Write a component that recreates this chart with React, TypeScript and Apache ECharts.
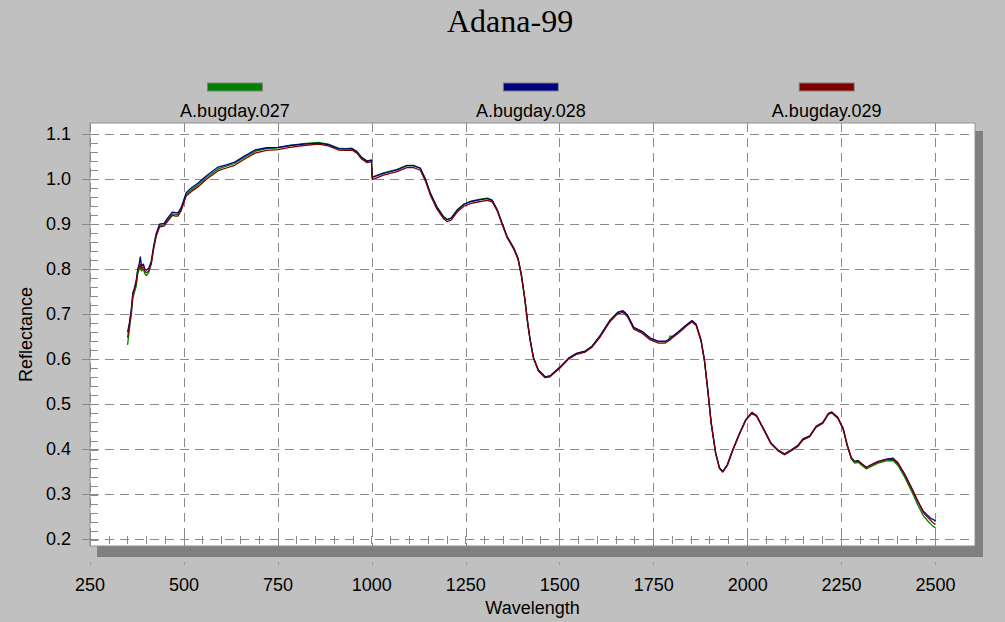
import React, { useEffect, useRef } from "react";
import * as echarts from "echarts";

const wavelengths = [
  350, 355, 360, 364, 368, 373, 377, 381, 384, 387,
  392, 396, 400, 406, 413, 419, 426, 435, 447, 457,
  469, 478, 484, 493, 506, 520, 537, 560, 591, 613,
  635, 662, 689, 720, 750, 782, 818, 858, 884, 911,
  929, 947, 960, 973, 987, 999, 1001, 1031, 1067, 1093,
  1111, 1129, 1142, 1156, 1173, 1191, 1200, 1211, 1227, 1245,
  1262, 1285, 1307, 1320, 1334, 1347, 1360, 1378, 1389, 1398,
  1407, 1415, 1421, 1430, 1443, 1461, 1474, 1500, 1523, 1545,
  1568, 1585, 1608, 1634, 1654, 1668, 1680, 1697, 1719, 1741,
  1763, 1781, 1790, 1794, 1799, 1817, 1839, 1852, 1863, 1876,
  1885, 1894, 1903, 1915, 1925, 1934, 1946, 1959, 1977, 1995,
  2011, 2024, 2044, 2062, 2080, 2098, 2116, 2133, 2147, 2165,
  2182, 2200, 2215, 2224, 2240, 2254, 2265, 2276, 2285, 2294,
  2304, 2316, 2329, 2347, 2369, 2387, 2400, 2418, 2436, 2454,
  2467, 2480, 2488, 2494, 2500,
];

const bugday027 = [
  0.632, 0.668, 0.700, 0.735, 0.748, 0.762, 0.790, 0.800, 0.808, 0.796,
  0.800, 0.790, 0.786, 0.792, 0.812, 0.845, 0.874, 0.896, 0.899, 0.910,
  0.923, 0.922, 0.921, 0.934, 0.966, 0.977, 0.987, 1.004, 1.023, 1.029,
  1.035, 1.049, 1.062, 1.068, 1.070, 1.075, 1.079, 1.082, 1.078, 1.069,
  1.068, 1.069, 1.062, 1.049, 1.041, 1.043, 1.005, 1.014, 1.022, 1.031,
  1.031, 1.025, 1.002, 0.969, 0.939, 0.917, 0.911, 0.914, 0.932, 0.945,
  0.951, 0.955, 0.958, 0.954, 0.932, 0.902, 0.873, 0.847, 0.825, 0.788,
  0.736, 0.680, 0.645, 0.604, 0.576, 0.561, 0.563, 0.582, 0.602, 0.613,
  0.618, 0.628, 0.653, 0.687, 0.704, 0.707, 0.698, 0.670, 0.661, 0.646,
  0.639, 0.639, 0.644, 0.652, 0.650, 0.661, 0.677, 0.685, 0.677, 0.642,
  0.598, 0.531, 0.458, 0.391, 0.358, 0.350, 0.365, 0.395, 0.432, 0.465,
  0.481, 0.474, 0.442, 0.413, 0.398, 0.388, 0.397, 0.406, 0.421, 0.428,
  0.449, 0.458, 0.478, 0.481, 0.469, 0.445, 0.408, 0.378, 0.369, 0.371,
  0.364, 0.356, 0.362, 0.369, 0.374, 0.375, 0.364, 0.338, 0.307, 0.274,
  0.253, 0.240, 0.233, 0.228, 0.226,
];

const bugday028 = [
  0.660, 0.682, 0.712, 0.748, 0.758, 0.776, 0.800, 0.812, 0.828, 0.806,
  0.812, 0.800, 0.798, 0.802, 0.818, 0.850, 0.879, 0.900, 0.902, 0.914,
  0.927, 0.926, 0.925, 0.938, 0.970, 0.981, 0.991, 1.008, 1.027, 1.032,
  1.038, 1.052, 1.065, 1.070, 1.071, 1.075, 1.078, 1.080, 1.077, 1.068,
  1.067, 1.068, 1.061, 1.048, 1.040, 1.042, 1.004, 1.013, 1.021, 1.030,
  1.030, 1.024, 1.001, 0.968, 0.938, 0.916, 0.910, 0.913, 0.931, 0.944,
  0.950, 0.954, 0.957, 0.953, 0.931, 0.901, 0.872, 0.846, 0.824, 0.787,
  0.735, 0.679, 0.645, 0.604, 0.576, 0.561, 0.563, 0.582, 0.602, 0.613,
  0.618, 0.628, 0.653, 0.687, 0.704, 0.708, 0.699, 0.671, 0.662, 0.647,
  0.640, 0.640, 0.644, 0.646, 0.650, 0.662, 0.678, 0.686, 0.678, 0.643,
  0.599, 0.532, 0.459, 0.392, 0.359, 0.351, 0.366, 0.396, 0.433, 0.466,
  0.482, 0.475, 0.443, 0.414, 0.399, 0.390, 0.399, 0.408, 0.423, 0.430,
  0.451, 0.460, 0.480, 0.483, 0.471, 0.447, 0.410, 0.381, 0.373, 0.375,
  0.368, 0.360, 0.366, 0.373, 0.378, 0.380, 0.370, 0.345, 0.315, 0.283,
  0.263, 0.252, 0.246, 0.244, 0.240,
];

const bugday029 = [
  0.648, 0.676, 0.706, 0.744, 0.754, 0.770, 0.796, 0.806, 0.812, 0.800,
  0.806, 0.796, 0.792, 0.796, 0.812, 0.844, 0.873, 0.894, 0.896, 0.907,
  0.920, 0.918, 0.918, 0.931, 0.963, 0.973, 0.983, 1.000, 1.019, 1.025,
  1.031, 1.045, 1.058, 1.064, 1.066, 1.071, 1.075, 1.078, 1.074, 1.065,
  1.064, 1.065, 1.058, 1.045, 1.037, 1.039, 0.999, 1.009, 1.017, 1.026,
  1.026, 1.020, 0.997, 0.964, 0.934, 0.912, 0.906, 0.909, 0.927, 0.940,
  0.946, 0.950, 0.953, 0.950, 0.929, 0.899, 0.870, 0.844, 0.822, 0.785,
  0.733, 0.677, 0.642, 0.602, 0.574, 0.559, 0.561, 0.580, 0.600, 0.611,
  0.616, 0.626, 0.650, 0.684, 0.701, 0.704, 0.695, 0.667, 0.658, 0.643,
  0.636, 0.636, 0.641, 0.643, 0.647, 0.659, 0.675, 0.683, 0.675, 0.640,
  0.596, 0.530, 0.457, 0.390, 0.357, 0.349, 0.364, 0.394, 0.431, 0.464,
  0.480, 0.473, 0.441, 0.412, 0.397, 0.388, 0.397, 0.406, 0.421, 0.428,
  0.449, 0.458, 0.478, 0.481, 0.469, 0.445, 0.408, 0.380, 0.372, 0.374,
  0.367, 0.359, 0.365, 0.372, 0.377, 0.378, 0.368, 0.343, 0.313, 0.281,
  0.260, 0.248, 0.241, 0.236, 0.233,
];

const seriesNames = ["A.bugday.027", "A.bugday.028", "A.bugday.029"];
const seriesColors = ["#008000", "#000080", "#800000"];
const seriesValues = [bugday027, bugday028, bugday029];

const xTicks = [250, 500, 750, 1000, 1250, 1500, 1750, 2000, 2250, 2500];
const yTicks = [0.2, 0.3, 0.4, 0.5, 0.6, 0.7, 0.8, 0.9, 1.0, 1.1];

const titleText = "Adana-99";
const xName = "Wavelength";
const yName = "Reflectance";

const GRID_GRAY = "#8a8a8a";
const SANS = "Liberation Sans";

export default function App() {
  const ref = useRef<HTMLDivElement>(null);

  useEffect(() => {
    if (!ref.current) return;
    const chart = echarts.init(ref.current, undefined, { renderer: "svg" });

    const rich: any = {
      lab: {
        fontFamily: SANS,
        fontSize: 18,
        color: "#000",
        lineHeight: 34,
        align: "center",
      },
    };
    seriesColors.forEach((c, i) => {
      rich["bar" + i] = {
        width: 54,
        height: 7,
        lineHeight: 14,
        backgroundColor: c,
        borderColor: "#808080",
        borderWidth: 1,
        align: "center",
      };
    });

    const hiddenAxis = (gridIndex: number) => ({
      type: "value",
      gridIndex,
      show: false,
      min: 0,
      max: 1,
      splitLine: { show: false },
    });

    const option: any = {
      animation: false,
      backgroundColor: "#c0c0c0",
      title: {
        text: titleText,
        left: 447,
        top: 5,
        padding: 0,
        textStyle: {
          fontFamily: "Liberation Serif",
          fontSize: 32,
          fontWeight: "normal",
          color: "#000",
        },
      },
      legend: {
        data: seriesNames,
        left: 160,
        top: 81,
        padding: 0,
        orient: "horizontal",
        itemWidth: 0,
        itemHeight: 0,
        itemGap: 166,
        selectedMode: false,
        icon: "rect",
        formatter: (name: string) => {
          const i = seriesNames.indexOf(name);
          return "{bar" + i + "|}\n{lab|" + name + "}";
        },
        textStyle: { width: 140, align: "center", rich },
      },
      grid: [
        {
          left: 97,
          top: 131,
          width: 886,
          height: 426,
          show: true,
          backgroundColor: "#808080",
          borderWidth: 0,
        },
        {
          left: 90,
          top: 123,
          width: 885,
          height: 424,
          show: true,
          backgroundColor: "#ffffff",
          borderColor: "#909090",
          borderWidth: 1,
        },
        { left: 90, top: 134, width: 845, height: 406 },
        { left: 90, top: 134, width: 845, height: 406 },
      ],
      xAxis: [
        hiddenAxis(0),
        {
          type: "value",
          gridIndex: 1,
          min: 250,
          max: 2605,
          interval: 250,
          offset: 16,
          name: xName,
          nameLocation: "middle",
          nameGap: 37,
          nameTextStyle: { fontFamily: SANS, fontSize: 18, color: "#000" },
          axisLine: { show: false },
          axisTick: {
            show: true,
            length: 3,
            customValues: xTicks,
            lineStyle: { color: "#9a9a9a" },
          },
          axisLabel: {
            customValues: xTicks,
            margin: 14,
            fontFamily: SANS,
            fontSize: 18,
            color: "#000",
            formatter: (v: number) => String(v),
          },
          splitLine: {
            show: true,
            lineStyle: { color: GRID_GRAY, type: [9, 6], width: 1 },
          },
        },
        {
          type: "value",
          gridIndex: 2,
          min: 250,
          max: 2500,
          interval: 250,
          axisLine: { show: false },
          axisTick: { show: true, inside: true, length: 4, lineStyle: { color: GRID_GRAY } },
          minorTick: { show: true, splitNumber: 5, length: 4, lineStyle: { color: GRID_GRAY } },
          axisLabel: { show: false },
          splitLine: { show: false },
        },
        {
          type: "value",
          gridIndex: 3,
          min: 250,
          max: 2500,
          interval: 250,
          axisLine: { show: false },
          axisTick: { show: true, inside: false, length: 4, lineStyle: { color: GRID_GRAY } },
          minorTick: { show: true, splitNumber: 5, length: 4, lineStyle: { color: GRID_GRAY } },
          axisLabel: { show: false },
          splitLine: { show: false },
        },
      ],
      yAxis: [
        hiddenAxis(0),
        {
          type: "value",
          gridIndex: 1,
          min: 0.185,
          max: 1.125,
          name: yName,
          nameLocation: "middle",
          nameGap: 55,
          nameRotate: 90,
          nameTextStyle: { fontFamily: SANS, fontSize: 18, color: "#000" },
          axisLine: { show: false },
          axisTick: {
            show: true,
            length: 8,
            customValues: yTicks,
            lineStyle: { color: GRID_GRAY },
          },
          axisLabel: {
            customValues: yTicks,
            margin: 19,
            fontFamily: SANS,
            fontSize: 18,
            color: "#000",
            formatter: (v: number) => v.toFixed(1),
          },
          splitLine: {
            show: true,
            lineStyle: { color: GRID_GRAY, type: [9, 6], width: 1 },
          },
        },
        {
          type: "value",
          gridIndex: 2,
          min: 0.2,
          max: 1.1,
          interval: 0.1,
          axisLine: { show: false },
          axisTick: { show: true, inside: true, length: 8, lineStyle: { color: GRID_GRAY } },
          minorTick: { show: true, splitNumber: 5, length: 8, lineStyle: { color: GRID_GRAY } },
          axisLabel: { show: false },
          splitLine: { show: false },
        },
        hiddenAxis(3),
      ],
      series: seriesNames.map((name, i) => ({
        name,
        type: "line",
        xAxisIndex: 1,
        yAxisIndex: 1,
        showSymbol: false,
        symbol: "none",
        color: seriesColors[i],
        lineStyle: { color: seriesColors[i], width: 1.3 },
        data: wavelengths.map((w, k) => [w, seriesValues[i][k]]),
      })),
    };

    chart.setOption(option);
    return () => chart.dispose();
  }, []);

  return (
    <div
      ref={ref}
      style={{ position: "absolute", left: 0, top: 0, width: 1005, height: 622 }}
    />
  );
}
